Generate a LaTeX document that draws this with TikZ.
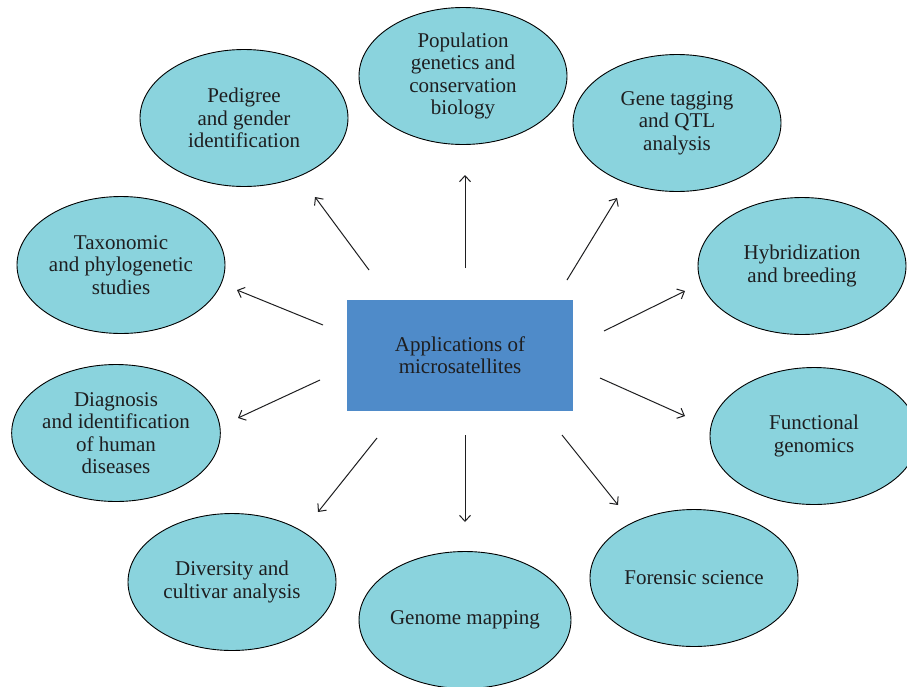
\documentclass[tikz,border=0pt]{standalone}
\usepackage{fontspec}
\setmainfont{Liberation Serif}
\usetikzlibrary{shapes.geometric,arrows.meta}
\definecolor{appfill}{RGB}{138,211,221}
\definecolor{hubfill}{RGB}{79,139,201}
\definecolor{inkcol}{RGB}{30,30,32}
\begin{document}
\begin{tikzpicture}[x=1pt, y=-1pt, >={Straight Barb[length=6pt,width=11pt]},
    app/.style = {draw=black, line width=0.9pt, fill=appfill, ellipse, minimum width=208pt, minimum height=137pt, inner sep=0pt, align=center, text=inkcol, font=\fontsize{21}{22.5}\selectfont},
    hub/.style = {fill=hubfill, minimum width=226pt, minimum height=111pt, align=center, text=inkcol, font=\fontsize{21}{22}\selectfont}]
\useasboundingbox (0,0) rectangle (907,686);
\clip (0,0) rectangle (907,686);
\node[hub] (hub) at (460,355.5) {Applications of\\microsatellites};

\node[app] (pop) at (463,76) {Population\\genetics and\\conservation\\biology};
\node[app] (ped) at (244,118) {Pedigree\\and gender\\identification};
\node[app] (gene) at (677,123) {Gene tagging\\and QTL\\analysis};
\node[app] (tax) at (121,265) {Taxonomic\\and phylogenetic\\studies};
\node[app] (hyb) at (802,266) {Hybridization\\and breeding};
\node[app] (diag) at (116,433) {Diagnosis\\and identification\\of human\\diseases};
\node[app] (func) at (814,436) {Functional\\genomics};
\node[app] (div) at (232,582) {Diversity and\\cultivar analysis};
\node[app] (gen) at (465,620) {Genome mapping};
\node[app] (for) at (694,578) {Forensic science};

% arrow ends
\coordinate (pop0) at (465,268); \coordinate (pop1) at (465,175);
\coordinate (ped0) at (369,270); \coordinate (ped1) at (315,197);
\coordinate (gene0) at (567,280); \coordinate (gene1) at (617,198);
\coordinate (tax0) at (323,325); \coordinate (tax1) at (237,290);
\coordinate (hyb0) at (604,331); \coordinate (hyb1) at (685,291);
\coordinate (diag0) at (320,380); \coordinate (diag1) at (238,418);
\coordinate (func0) at (600,378); \coordinate (func1) at (685,416);
\coordinate (div0) at (377,438); \coordinate (div1) at (318,512);
\coordinate (gen0) at (465,435); \coordinate (gen1) at (465,522);
\coordinate (for0) at (562,435); \coordinate (for1) at (618,505);

\foreach \a in {pop,ped,gene,tax,hyb,diag,func,div,gen,for}
    \draw[->, line width=1pt, inkcol] (\a0) -- (\a1);
\end{tikzpicture}
\end{document}
